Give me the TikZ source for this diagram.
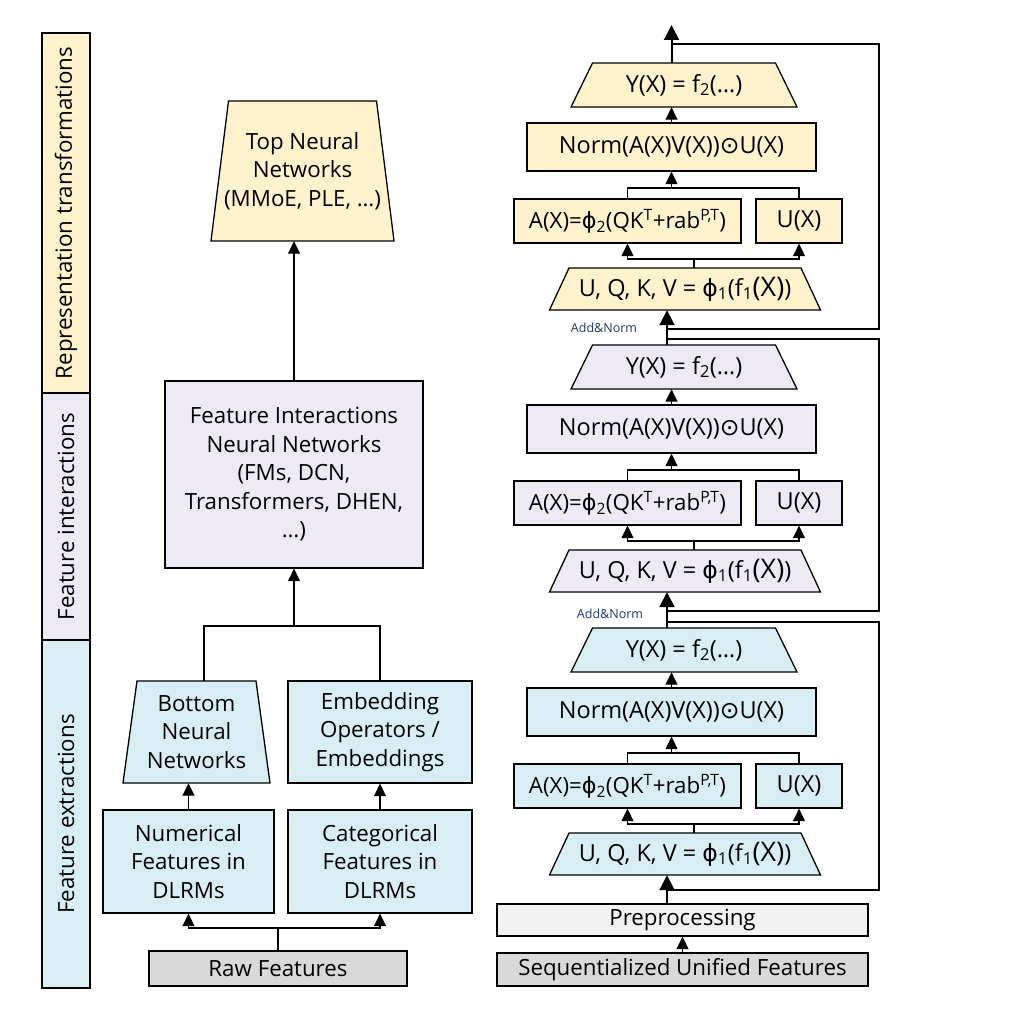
\documentclass[tikz,border=0pt]{standalone}
\usepackage{fontspec}
\setmainfont{Open Sans}
\newfontfamily\djv{DejaVu Sans}
\usetikzlibrary{arrows.meta}
\definecolor{ylw}{HTML}{FFF2CC}
\definecolor{lav}{HTML}{EEEAF4}
\definecolor{blu}{HTML}{D8EEF4}
\definecolor{grylt}{HTML}{F2F2F2}
\definecolor{grydk}{HTML}{D9D9D9}
\definecolor{navy}{HTML}{1F3864}
\newcommand{\phii}{{\djv ϕ}}
\newcommand{\trapnode}[8]{%
  \filldraw[fill=#7, draw=black, line width=1.3pt, line join=miter]
    (#2-#5/2, #3+#6/2) -- (#2+#5/2, #3+#6/2) -- (#2+#4/2, #3-#6/2) -- (#2-#4/2, #3-#6/2) -- cycle;
  \node[inner sep=0pt, minimum width=#5, minimum height=#6, align=center] (#1) at (#2,#3) {#8};
}
\begin{document}
\begin{tikzpicture}[x=1pt,y=-1pt,
  font=\fontsize{22.3}{28.5}\selectfont,
  box/.style={draw=black, line width=1.3pt, inner sep=0pt, align=center},
  rfont/.style={font=\fontsize{23.5}{28}\selectfont},
  ln/.style={line width=1.3pt},
  arr/.style={line width=1.3pt, -{Triangle[width=12pt,length=12.5pt]}},
  bigarr/.style={line width=2pt, -{Triangle[width=15pt,length=15pt]}},
  anlbl/.style={text=navy, font=\fontsize{12.5}{12.5}\selectfont}]
\useasboundingbox (0,0) rectangle (1009,1025);

% sidebars
\node[box, line width=1.5pt, fill=ylw, rotate=90, minimum width=360, minimum height=48] (s1) at (66,213) {Representation transformations};
\node[box, line width=1.5pt, fill=lav, rotate=90, minimum width=247, minimum height=48] (s2) at (66,516.5) {Feature interactions};
\node[box, line width=1.5pt, fill=blu, rotate=90, minimum width=348, minimum height=48] (s3) at (66,814) {Feature extractions};

% left column
\trapnode{topnn}{302.5}{171}{148}{183}{140}{ylw}{Top Neural\\Networks\\(MMoE, PLE, …)}
\node[box, fill=lav, minimum width=258, minimum height=187] (fi) at (294,474.5) {Feature Interactions\\Neural Networks\\(FMs, DCN,\\Transformers, DHEN,\\…)};
\trapnode{bnn}{196.5}{732}{119}{147}{102}{blu}{Bottom\\Neural\\Networks}
\node[box, fill=blu, minimum width=184, minimum height=102] (emb) at (380,732) {Embedding\\Operators /\\Embeddings};
\node[box, fill=blu, minimum width=171, minimum height=103] (num) at (188.5,861.5) {Numerical\\Features in\\DLRMs};
\node[box, fill=blu, minimum width=184, minimum height=103] (cat) at (380,861.5) {Categorical\\Features in\\DLRMs};
\node[box, fill=grydk, minimum width=258, minimum height=35] (raw) at (278,968.5) {Raw Features};

\draw[arr] (fi.north) -- (fi.north |- topnn.south);
\coordinate (j1) at (294,626);
\draw[ln] ([xshift=7.5]bnn.north) |- (j1);
\draw[ln] (emb.north) |- (j1);
\draw[arr] (j1) -- (fi.south);
\draw[arr] (num.north) -- (num.north |- bnn.south);
\draw[arr] (cat.north) -- (emb.south);
\coordinate (j2) at (278,928);
\draw[ln] (raw.north) -- (j2);
\draw[arr] (j2) -| (num.south);
\draw[arr] (j2) -| (cat.south);

% right column blocks
\foreach \o/\c/\n in {0/ylw/a,282/lav/b,565/blu/c}{
  \trapnode{yx\n}{684}{85+\o}{183}{226}{44}{\c}{\fontsize{23.5}{28}\selectfont Y(X) = f\textsubscript{2}(…)}
  \node[box, rfont, fill=\c, minimum width=289, minimum height=48] (nrm\n) at (671.5,147+\o) {Norm(A(X)V(X)){\djv ⊙}U(X)};
  \node[box, fill=\c, minimum width=227, minimum height=44] (ax\n) at (627.5,221+\o) {A(X)=\phii\textsubscript{2}(QK\textsuperscript{T}+rab\textsuperscript{P,T})};
  \node[box, rfont, fill=\c, minimum width=86, minimum height=44] (ux\n) at (799,221+\o) {U(X)};
  \trapnode{uqkv\n}{685}{289+\o}{232}{271}{42}{\c}{\fontsize{23.5}{28}\selectfont U, Q, K, V = \phii\textsubscript{1}(f\textsubscript{1}{\fontsize{27}{27}\selectfont(X)})}
  \coordinate (jb\n) at (694,259+\o);
  \coordinate (jt\n) at (671.5,188+\o);
  \draw[ln] ([xshift=9]uqkv\n.north) -- (jb\n);
  \draw[arr] (jb\n) -| (ax\n.south);
  \draw[arr] (jb\n) -| (ux\n.south);
  \draw[ln] (ax\n.north) |- (jt\n);
  \draw[ln] (ux\n.north) |- (jt\n);
  \draw[arr] (jt\n) -- (nrm\n.south);
  \draw[arr] (nrm\n.north) -- (nrm\n.north |- yx\n.south);
}

\node[box, fill=grylt, minimum width=371, minimum height=32] (prep) at (682.5,920) {Preprocessing};
\node[box, fill=grydk, minimum width=371, minimum height=33] (seq) at (682.5,969.5) {Sequentialized Unified Features};
\draw[arr] (seq.north) -- (prep.south);

% inter-block arrows
\draw[bigarr] ([xshift=-17]yxb.north) -- ([xshift=-17]yxb.north |- uqkva.south);
\draw[bigarr] ([xshift=-17]yxc.north) -- ([xshift=-17]yxc.north |- uqkvb.south);
\draw[bigarr] ([xshift=-15.5]prep.north) -- ([xshift=-15.5]prep.north |- uqkvc.south);
\coordinate (out) at (671.5,25);
\draw[bigarr] (nrma.north |- yxa.north) -- (out);

% residual connections
\coordinate (r1s) at (671.5,44);
\coordinate (r1e) at (667,329);
\coordinate (r2s) at (667,339);
\coordinate (r2e) at (667,611);
\coordinate (r3s) at (667,622);
\coordinate (r3e) at (667,890);
\draw[ln] (r1s) -- (879,44) -- (879,329) -- (r1e);
\draw[ln] (r2s) -- (879,339) -- (879,611) -- (r2e);
\draw[ln] (r3s) -- (879,622) -- (879,890) -- (r3e);

\node[anlbl] (an1) at (604,328) {Add\&Norm};
\node[anlbl] (an2) at (610,614) {Add\&Norm};
\end{tikzpicture}
\end{document}
